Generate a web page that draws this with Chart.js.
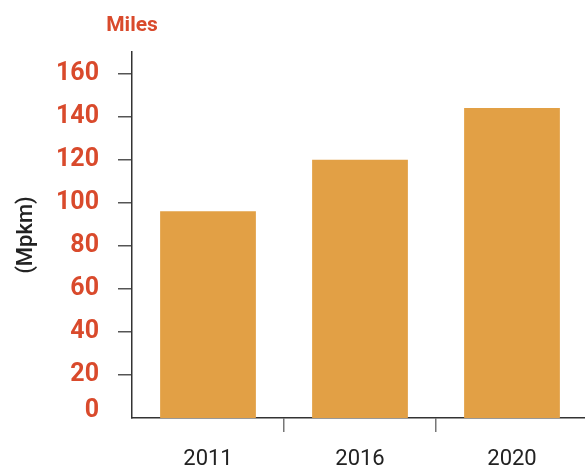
<!DOCTYPE html>
<html><head><meta charset="utf-8">
<style>html,body{margin:0;padding:0;background:#fff;overflow:hidden}#wrap{width:588px;height:469px;position:relative}</style>
<script src="https://cdn.jsdelivr.net/npm/chart.js@4/dist/chart.umd.min.js"></script>
</head><body><div id="wrap"><canvas id="c"></canvas></div>
<script>
const categories = ['2011', '2016', '2020'];
const values = [96, 120, 144];
const yTickValues = [0, 20, 40, 60, 80, 100, 120, 140, 160];
const yTickLabels = ['0', '20', '40', '60', '80', '100', '120', '140', '160'];
const unitLabel = 'Miles';
const axisTitle = '(Mpkm)';
const yMax = 170;
const zeroLabelNudge = 3.5; // the "0" label sits slightly above the baseline

const RED = '#D94A2C';
const BAR = '#E2A045';

const unitPlugin = {
  id: 'unitLabel',
  afterDraw(chart) {
    const ctx = chart.ctx, y = chart.scales.y;
    ctx.save();
    ctx.font = 'bold 21px Roboto';
    ctx.fillStyle = RED;
    ctx.textAlign = 'center';
    ctx.textBaseline = 'middle';
    ctx.fillText(unitLabel, y.right, 26);
    ctx.restore();
  }
};

new Chart(document.getElementById('c'), {
  type: 'bar',
  data: { labels: categories, datasets: [{ data: values, backgroundColor: BAR, barPercentage: 0.63, categoryPercentage: 1 }] },
  options: {
    responsive: true, maintainAspectRatio: false, animation: false,
    layout: { padding: { top: 52, right: 0, left: 0, bottom: 0 } },
    plugins: { legend: { display: false }, tooltip: { enabled: false } },
    scales: {
      x: {
        grid: { drawOnChartArea: false, offset: true, tickLength: 14, lineWidth: 1.5,
          color: c => (c.type !== 'tick' || c.index === 0 || c.index >= categories.length) ? 'rgba(0,0,0,0)' : '#777' },
        border: { display: true, color: '#333', width: 1.5 },
        ticks: { color: '#222', font: { family: 'Roboto', size: 22 }, padding: 14 },
        afterFit(s) { s.height = 51; }
      },
      y: {
        min: 0, max: yMax,
        afterBuildTicks(s) {
          s.ticks = yTickValues.map((v, i) => ({ value: v === 0 ? zeroLabelNudge : v, label: yTickLabels[i] }));
        },
        grid: { drawOnChartArea: false, tickLength: 14, lineWidth: 1.5,
          color: c => (c.tick && c.tick.value === zeroLabelNudge) ? 'rgba(0,0,0,0)' : '#555' },
        border: { display: true, color: '#333', width: 1.5 },
        ticks: { color: RED, font: { family: 'Roboto', size: 25, weight: 'bold' }, padding: 19,
          callback: (v, i, t) => t[i].label },
        title: { display: true, text: axisTitle, color: '#222', font: { family: 'Roboto', size: 22, weight: '500' }, padding: { top: 13, bottom: 0 } },
        afterFit(s) { s.width = 132; }
      }
    }
  },
  plugins: [unitPlugin]
});
</script></body></html>
